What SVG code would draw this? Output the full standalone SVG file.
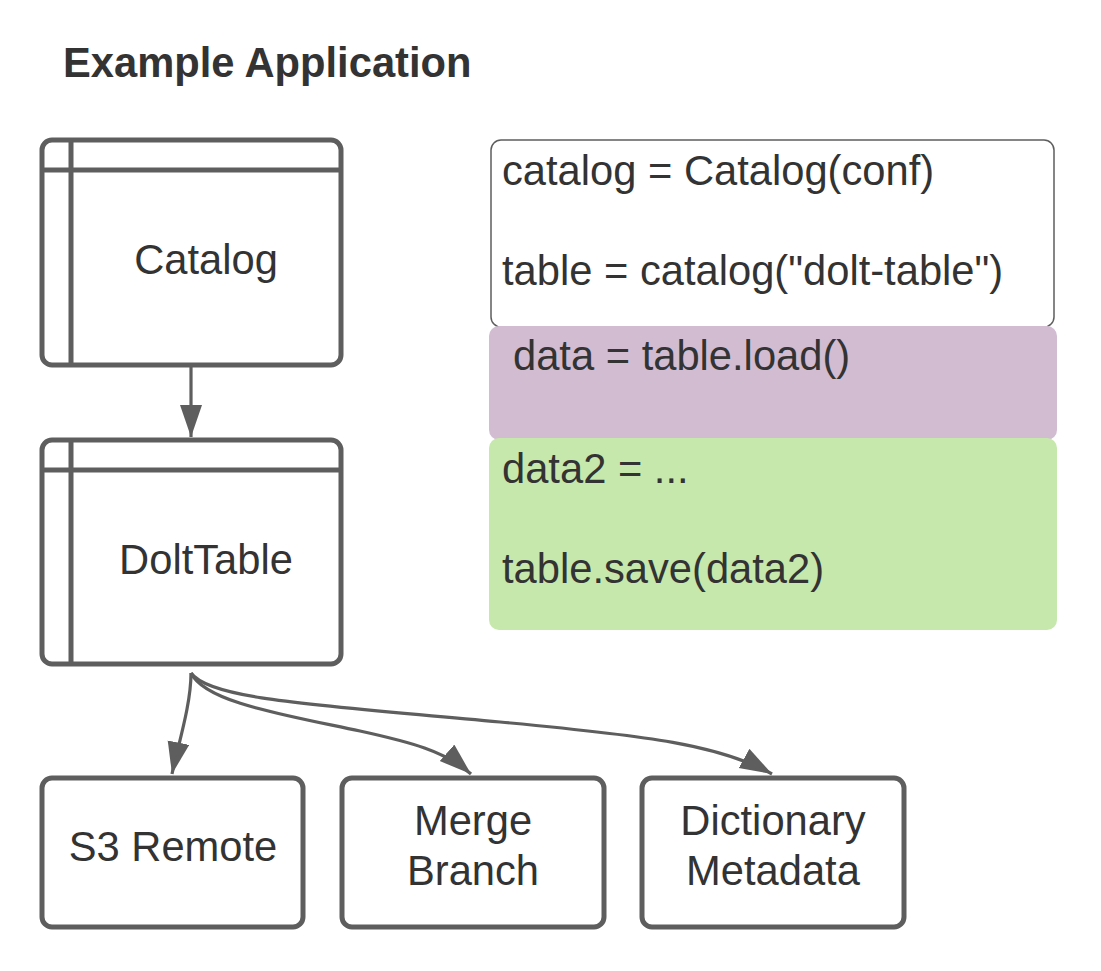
<svg xmlns="http://www.w3.org/2000/svg" width="1101" height="971" viewBox="0 0 1101 971">
<defs>
<style>
.node{fill:#ffffff;stroke:#5e5e5e;stroke-width:5}
.inner{fill:none;stroke:#5e5e5e;stroke-width:5}
.lbl{font-family:"Liberation Sans",Arial,sans-serif;font-size:41.7px;fill:#333333}
.mid{text-anchor:middle}
.conn{fill:none;stroke:#5e5e5e;stroke-width:3.2}
.code{font-family:"Liberation Sans",Arial,sans-serif;font-size:41.7px;fill:#333333}
</style>
<marker id="arrow" markerUnits="userSpaceOnUse" markerWidth="34" markerHeight="24" refX="32" refY="11" orient="auto" viewBox="0 0 34 24">
<path d="M0,0 L32,11 L0,22 z" fill="#5e5e5e"/>
</marker>
</defs>
<rect width="1101" height="971" fill="#ffffff"/>
<g id="title">
<text x="63" y="77" style="font-family:'Liberation Sans',Arial,sans-serif;font-size:41.7px;font-weight:bold;fill:#333333">Example Application</text>
</g>
<g id="connectors">
<path class="conn" d="M191,367 L191,437" marker-end="url(#arrow)"/>
<path class="conn" d="M191,673 C191,705 178,745 172,774" marker-end="url(#arrow)"/>
<path class="conn" d="M191,673 C205,702 280,714 360,731 C410,742 445,751 471,774" marker-end="url(#arrow)"/>
<path class="conn" d="M191,673 C210,700 320,705 500,722 C650,736 720,745 772,774" marker-end="url(#arrow)"/>
</g>
<g id="catalog">
<rect class="node" x="42" y="140" width="299" height="225" rx="10"/>
<line class="inner" x1="42" y1="170" x2="341" y2="170"/>
<line class="inner" x1="71" y1="140" x2="71" y2="365"/>
<text class="lbl mid" x="206" y="274">Catalog</text>
</g>
<g id="dolttable">
<rect class="node" x="42" y="440" width="299" height="224" rx="10"/>
<line class="inner" x1="42" y1="470" x2="341" y2="470"/>
<line class="inner" x1="71" y1="440" x2="71" y2="664"/>
<text class="lbl mid" x="206" y="574">DoltTable</text>
</g>
<g id="s3remote">
<rect class="node" x="42" y="778" width="261" height="149" rx="10"/>
<text class="lbl mid" x="173" y="861">S3 Remote</text>
</g>
<g id="mergebranch">
<rect class="node" x="342" y="778" width="262" height="149" rx="10"/>
<text class="lbl mid" x="473" y="835">Merge</text>
<text class="lbl mid" x="473" y="885">Branch</text>
</g>
<g id="dictionarymetadata">
<rect class="node" x="642" y="778" width="262" height="149" rx="10"/>
<text class="lbl mid" x="773" y="835">Dictionary</text>
<text class="lbl mid" x="773" y="885">Metadata</text>
</g>
<g id="code-catalog">
<rect x="491" y="140" width="563" height="187" rx="10" fill="#ffffff" stroke="#5e5e5e" stroke-width="1.5"/>
<text class="code" x="502" y="185">catalog = Catalog(conf)</text>
<text class="code" x="502" y="285">table = catalog("dolt-table")</text>
</g>
<g id="code-load">
<rect x="489" y="326" width="568" height="114" rx="10" fill="#d1bcd2"/>
<text class="code" x="513" y="370">data = table.load()</text>
</g>
<g id="code-save">
<rect x="489" y="438" width="568" height="192" rx="10" fill="#c7e8ac"/>
<text class="code" x="502" y="483">data2 = ...</text>
<text class="code" x="502" y="583">table.save(data2)</text>
</g>
</svg>
